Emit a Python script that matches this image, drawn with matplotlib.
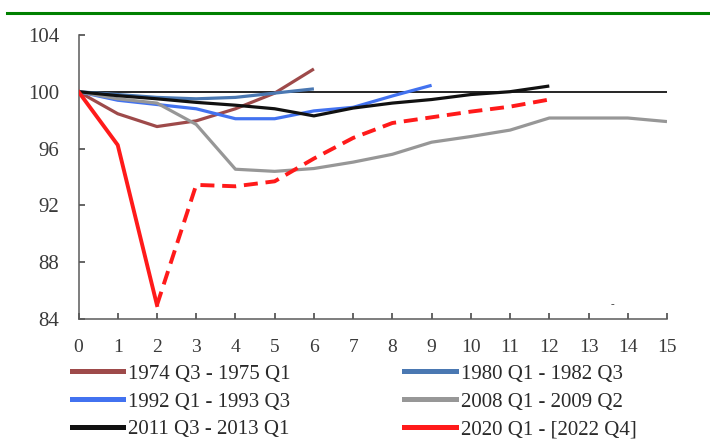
import matplotlib
matplotlib.use("Agg")
import matplotlib.pyplot as plt
from matplotlib.lines import Line2D

plt.rcParams['font.family'] = ['Liberation Serif', 'DejaVu Serif']

# ---- data ----
labels = ["1974 Q3 - 1975 Q1", "1980 Q1 - 1982 Q3", "1992 Q1 - 1993 Q3",
          "2008 Q1 - 2009 Q2", "2011 Q3 - 2013 Q1", "2020 Q1 - [2022 Q4]"]
s1974 = [100, 98.45, 97.55, 97.95, 98.8, 99.9, 101.6]
s1980 = [100, 99.8, 99.6, 99.5, 99.6, 99.9, 100.2]
s1992 = [100, 99.4, 99.1, 98.8, 98.1, 98.1, 98.65, 98.9, 99.7, 100.45]
s2008 = [100, 99.5, 99.2, 97.7, 94.55, 94.4, 94.6, 95.05, 95.6, 96.45,
         96.85, 97.3, 98.15, 98.15, 98.15, 97.9]
s2011 = [100, 99.72, 99.5, 99.25, 99.05, 98.8, 98.3, 98.85, 99.2, 99.45,
         99.8, 100.0, 100.4]
s2020_actual = [100, 96.25, 85.0]
s2020_forecast = [85.0, 93.45, 93.35, 93.7, 95.3, 96.75, 97.8, 98.2,
                  98.6, 98.95, 99.45]
x_forecast_start = 2
xticks = list(range(0, 16))
yticks = [84, 88, 92, 96, 100, 104]

colors = ['#9E4A4A', '#4A78B2', '#4272F0', '#979797', '#111111', '#FF1A1A']

fig = plt.figure(figsize=(7.10, 4.48), dpi=100)
ax = fig.add_axes([78.5 / 710, 1 - 319.3 / 448, (667 - 78.5) / 710, (319.3 - 34.8) / 448])

ax.axhline(100, color='black', lw=1.2, zorder=1)

lines = []
series = [s1974, s1980, s1992, s2008, s2011]
for s, c, lab in zip(series, colors[:5], labels[:5]):
    ln, = ax.plot(range(len(s)), s, color=c, lw=2.3, label=lab, zorder=2,
                  solid_capstyle='butt')
    lines.append(ln)
ln_red, = ax.plot(range(len(s2020_actual)), s2020_actual, color=colors[5],
                  lw=2.8, label=labels[5], zorder=4)
ax.plot(range(x_forecast_start, x_forecast_start + len(s2020_forecast)),
        s2020_forecast, color=colors[5], lw=2.8, dashes=(3.6, 2.0), zorder=4)
lines.append(ln_red)

ax.set_xlim(0, 15)
ax.set_ylim(84, 104)
ax.set_xticks(xticks)
ax.set_yticks(yticks)
for sp in ['top', 'right']:
    ax.spines[sp].set_visible(False)
for sp in ['left', 'bottom']:
    ax.spines[sp].set_color('#5a5a5a')
    ax.spines[sp].set_linewidth(1.1)
ax.tick_params(axis='both', direction='in', length=4.5, width=1.1,
               color='#3a3a3a', labelcolor='#3a3a3a')
ax.tick_params(axis='x', pad=14, labelsize=14)
ax.tick_params(axis='y', pad=14, labelsize=15)

ax.text(13.6, 85.05, '-', fontsize=8, color='#333333', ha='center', va='center')

order = [0, 2, 4, 1, 3, 5]
leg_handles = [Line2D([0], [0], color=colors[i], lw=3.6) for i in order]
fig.legend(leg_handles, [labels[i] for i in order], ncol=2,
           loc='upper left', bbox_to_anchor=(71.7 / 710, 1 - 364 / 448),
           frameon=False, fontsize=15, handlelength=2.48, handletextpad=0.24,
           columnspacing=5.45, labelspacing=0.4, borderpad=0, borderaxespad=0,
           labelcolor='#2a2a2a')

fig.add_artist(Line2D([7 / 710, 1.0], [1 - 13.3 / 448, 1 - 13.3 / 448],
                      color='#008000', lw=2.2, transform=fig.transFigure))

fig.savefig('out.png', dpi=100)
